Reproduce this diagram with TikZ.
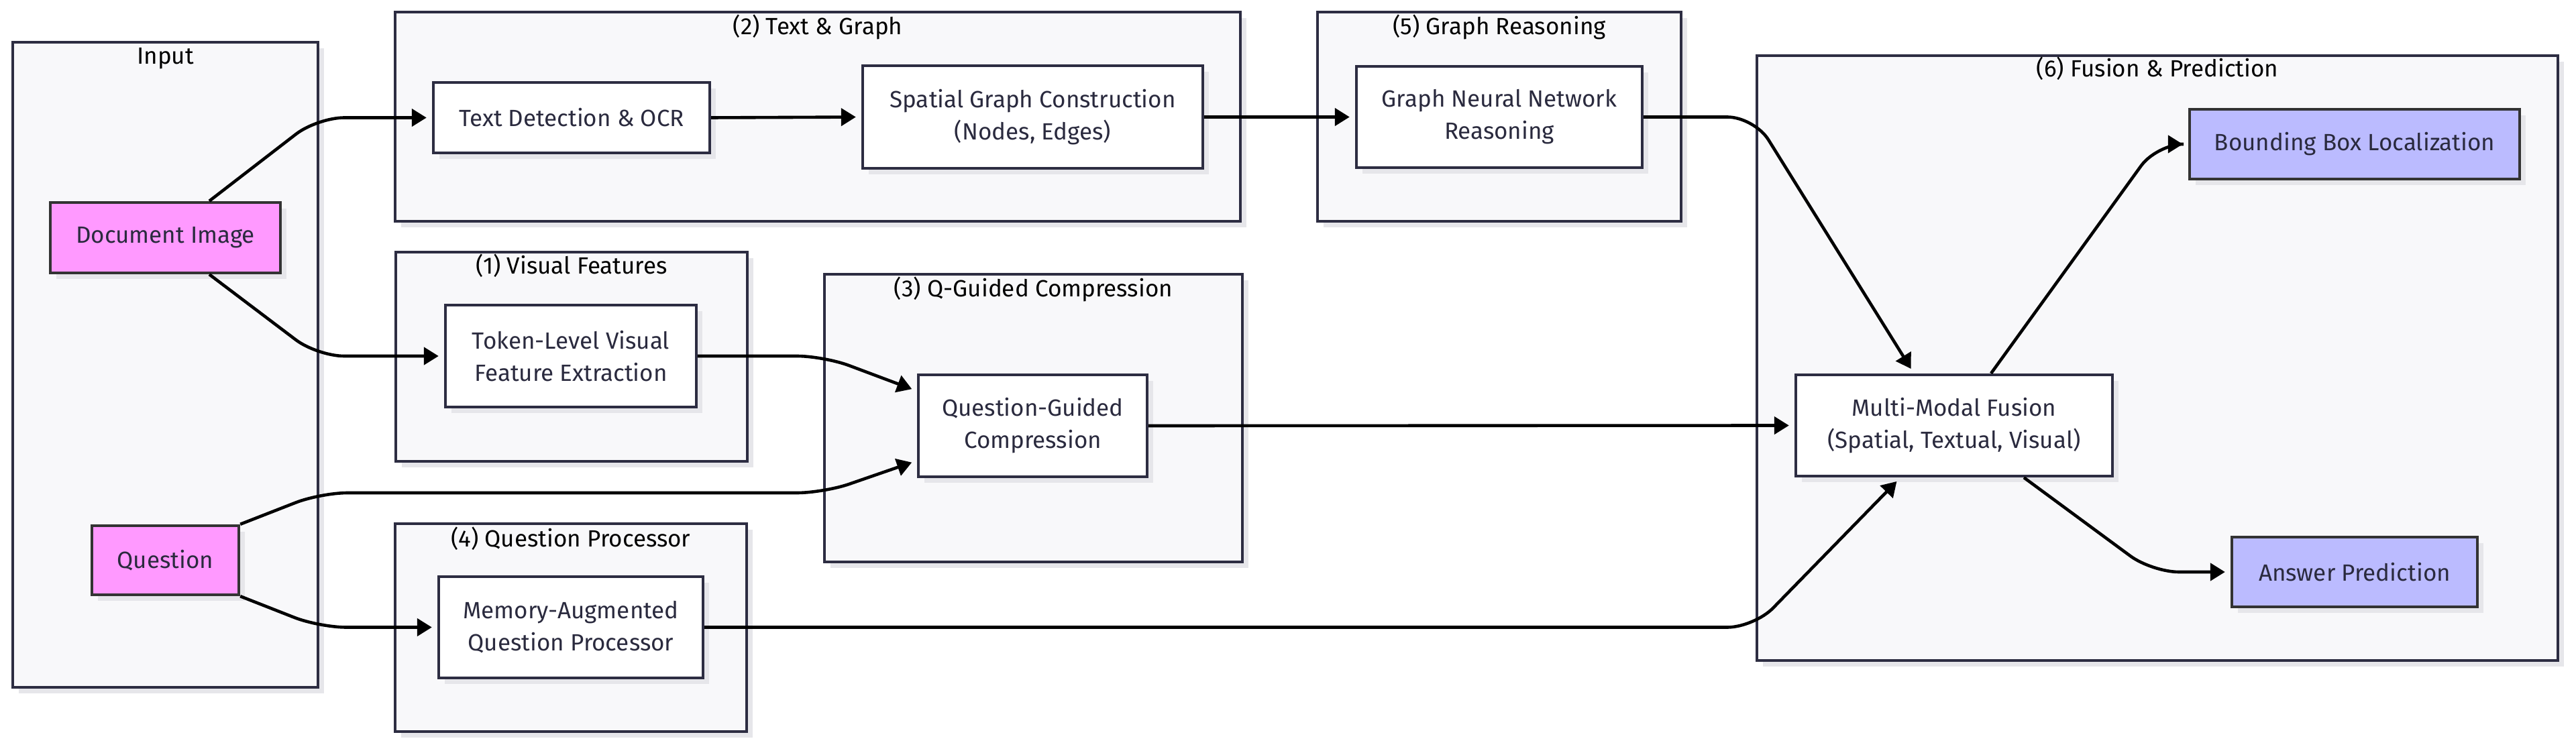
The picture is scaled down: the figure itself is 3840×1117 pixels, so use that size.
\documentclass[tikz,border=0pt]{standalone}
\usepackage{fontspec}
\setmainfont{Fira Sans}
\usetikzlibrary{arrows.meta}
\definecolor{clfill}{HTML}{F8F8FA}
\definecolor{clline}{HTML}{2D2D42}
\definecolor{txt}{HTML}{2A2A3E}
\definecolor{shade}{HTML}{E6E6EA}
\definecolor{pinkf}{HTML}{FF99FF}
\definecolor{bluef}{HTML}{BBBBFF}
\definecolor{darkb}{HTML}{333333}
\begin{document}
\begin{tikzpicture}[x=0.5pt,y=-0.5pt,
  shadowed/.style={preaction={draw=none,fill=shade,transform canvas={shift={(4.5pt,-4.5pt)}}}},
  cluster/.style={shadowed,draw=clline,line width=1.8pt,fill=clfill,inner sep=0pt},
  cllabel/.style={text=black,font=\fontsize{17.5}{22}\selectfont,inner sep=0pt,text height=0.7em,text depth=0.2em},
  box/.style={shadowed,draw=clline,line width=2.2pt,fill=white,inner sep=0pt,align=center,text=txt,font=\fontsize{17.5}{24}\selectfont},
  inbox/.style={box,draw=darkb,fill=pinkf},
  outbox/.style={box,draw=darkb,fill=bluef},
  conn/.style={line width=2.3pt,-{Triangle[length=11pt,width=13pt]},shorten >=4pt,rounded corners=20pt}]
\fill[white] (0,0) rectangle (3840,1117);
\useasboundingbox (0,0) rectangle (3840,1117);

% clusters
\node[cluster,minimum width=227.5pt,minimum height=481pt] (cin) at (246.5,544) {};
\node[cluster,minimum width=630pt,minimum height=156pt] (c2) at (1219,174) {};
\node[cluster,minimum width=271pt,minimum height=156pt] (c5) at (2235,174) {};
\node[cluster,minimum width=262pt,minimum height=156pt] (c1) at (852,532) {};
\node[cluster,minimum width=311.5pt,minimum height=214.5pt] (c3) at (1540.5,623.5) {};
\node[cluster,minimum width=262pt,minimum height=155pt] (c4) at (851,936) {};
\node[cluster,minimum width=597pt,minimum height=451pt] (c6) at (3216,534) {};

\node[cllabel] (lin) at (246.5,91) {Input};
\node[cllabel] (l2) at (1219,47) {(2) Text \& Graph};
\node[cllabel] (l5) at (2235,47) {(5) Graph Reasoning};
\node[cllabel] (l1) at (852,404) {(1) Visual Features};
\node[cllabel] (l3) at (1540.5,438) {(3) Q-Guided Compression};
\node[cllabel] (l4) at (851,810) {(4) Question Processor};
\node[cllabel] (l6) at (3216,110) {(6) Fusion \& Prediction};

% nodes
\node[inbox,minimum width=171.5pt,minimum height=52.5pt] (doc) at (246.5,354.5) {Document Image};
\node[inbox,minimum width=109.5pt,minimum height=51.5pt] (q) at (246.5,835.5) {Question};
\node[box,minimum width=206pt,minimum height=52.5pt] (ocr) at (852,175.5) {Text Detection \& OCR};
\node[box,minimum width=253.5pt,minimum height=76.5pt] (sgc) at (1539.5,174.5) {Spatial Graph Construction\\(Nodes, Edges)};
\node[box,minimum width=213pt,minimum height=75.5pt] (gnn) at (2235,174.5) {Graph Neural Network\\Reasoning};
\node[box,minimum width=187pt,minimum height=76pt] (tok) at (851,531) {Token-Level Visual\\Feature Extraction};
\node[box,minimum width=170.5pt,minimum height=76pt] (qgc) at (1539.5,635) {Question-Guided\\Compression};
\node[box,minimum width=197pt,minimum height=75.5pt] (mem) at (851,935.5) {Memory-Augmented\\Question Processor};
\node[box,minimum width=236pt,minimum height=75.5pt] (mmf) at (2913,634.5) {Multi-Modal Fusion\\(Spatial, Textual, Visual)};
\node[outbox,minimum width=246pt,minimum height=52pt] (bbox) at (3510,215) {Bounding Box Localization};
\node[outbox,minimum width=183pt,minimum height=52pt] (ans) at (3510,853) {Answer Prediction};

% connectors
\draw[conn] ([xshift=32.75pt]doc.north) -- (473,175.5) -- (ocr.west);
\draw[conn] ([xshift=32.75pt]doc.south) -- (473,531) -- (tok.west);
\draw[conn] (ocr.east) -- (sgc.west);
\draw[conn] (sgc.east) -- (gnn.west);
\draw[conn] (gnn.east) -- (2615,174.5) -- ([xshift=-30pt]mmf.north);
\draw[conn] (tok.east) -- (1228,531) -- ([yshift=26pt]qgc.west);
\draw[conn] (q.north east) -- (478,735) -- (1228,735) -- ([yshift=-26pt]qgc.west);
\draw[conn] (q.south east) -- (476,935.5) -- (mem.west);
\draw[conn] (qgc.east) -- (mmf.west);
\draw[conn] (mem.east) -- (2615,935.5) -- ([xshift=-40pt]mmf.south);
\draw[conn] ([xshift=27.5pt]mmf.north) -- (3215,215) -- (bbox.west);
\draw[conn] ([xshift=52pt]mmf.south) -- (3208,853) -- (ans.west);
\end{tikzpicture}
\end{document}
